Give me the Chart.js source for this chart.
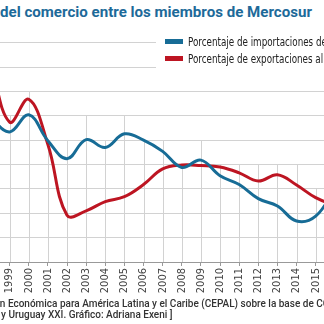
<!DOCTYPE html>
<html lang="es">
<head>
<meta charset="utf-8">
<script src="https://cdn.jsdelivr.net/npm/chart.js@4.4.1/dist/chart.umd.min.js"></script>
<style>
  html, body { margin: 0; padding: 0; width: 324px; height: 324px; overflow: hidden; background: #fff; }
  #titulo { position: absolute; left: 0; top: 3px; font: bold 15.1px Roboto, sans-serif; color: #1d6a99; white-space: nowrap; }
  #grafico { position: absolute; left: -20px; top: 0; width: 370px; height: 324px; }
  #leyenda { position: absolute; left: 156px; top: 33px; width: 200px; height: 46px; background: #fff; }
  .item { position: absolute; left: 9px; white-space: nowrap; height: 14px; }
  .item i { position: absolute; left: 0; top: 4px; width: 18px; height: 5px; }
  .item span { position: absolute; left: 23px; top: -1px; font: 12.5px "DejaVu Sans Condensed", sans-serif; color: #222;
               transform: scaleX(0.78); transform-origin: 0 0; }
  #fuente { position: absolute; left: -37px; top: 298px; font: 500 10px Roboto, sans-serif; color: #333; white-space: nowrap; line-height: 11px; }
</style>
</head>
<body>
<div id="titulo">del comercio entre los miembros de Mercosur</div>
<div id="grafico"><canvas id="comercio"></canvas></div>
<div id="leyenda"></div>
<div id="fuente">Comisión Económica para América Latina y el Caribe (CEPAL) sobre la base de COMTRADE<br><span style="margin-left:38px">y Uruguay XXI. Gráfico: Adriana Exeni ]</span></div>
<script>
const anios = ['1998', '1999', '2000', '2001', '2002', '2003', '2004', '2005', '2006', '2007',
               '2008', '2009', '2010', '2011', '2012', '2013', '2014', '2015', '2016'];
// % de importaciones desde el Mercosur
const importaciones = [39.6, 36.7, 40.2, 34.9, 31.2, 35.1, 33.5, 36.3, 35.0, 32.7,
                       29.4, 30.9, 27.7, 25.9, 23.0, 21.5, 18.4, 19.4, 25.0];
// % de exportaciones al Mercosur
const exportaciones = [51.1, 38.7, 43.4, 34.1, 19.6, 20.5, 22.4, 23.4, 25.9, 29.1,
                       29.9, 29.8, 29.5, 28.3, 26.6, 27.9, 25.8, 23.2, 21.6];

const AZUL = '#176c96';
const ROJO = '#bd1522';

// lineas verticales de cada año, cortadas en la linea horizontal sobre el dato mas alto
const lineasAnuales = {
  id: 'lineasAnuales',
  beforeDatasetsDraw(chart) {
    const {ctx, chartArea, scales: {x, y}} = chart;
    ctx.save();
    ctx.strokeStyle = '#d2d2d2';
    ctx.lineWidth = 1;
    anios.forEach((a, i) => {
      const tope = Math.ceil(Math.max(importaciones[i], exportaciones[i]) / 5) * 5;
      const px = Math.round(x.getPixelForValue(i)) + 0.5;
      ctx.beginPath();
      ctx.moveTo(px, chartArea.bottom);
      ctx.lineTo(px, y.getPixelForValue(tope));
      ctx.stroke();
    });
    ctx.restore();
  }
};

const chart = new Chart(document.getElementById('comercio'), {
  type: 'line',
  data: {
    labels: anios,
    datasets: [
      { label: 'Porcentaje de importaciones desde el Mercosur', data: importaciones, borderColor: AZUL },
      { label: 'Porcentaje de exportaciones al Mercosur', data: exportaciones, borderColor: ROJO }
    ]
  },
  options: {
    responsive: true,
    maintainAspectRatio: false,
    animation: false,
    elements: {
      line: { borderWidth: 3, tension: 0.4, fill: false },
      point: { radius: 0 }
    },
    layout: { padding: { left: 10.5, right: 11.5, top: 42.7, bottom: 0 } },
    plugins: { legend: { display: false }, tooltip: { enabled: false } },
    scales: {
      x: {
        grid: { drawOnChartArea: false, tickLength: 4, color: '#999' },
        border: { color: '#999' },
        ticks: {
          minRotation: 90, maxRotation: 90, autoSkip: false, padding: 2,
          color: '#444', font: { family: '"DejaVu Sans Condensed", sans-serif', size: 11 }
        },
        afterFit(scale) { scale.height = 62; }
      },
      y: {
        min: 10, max: 55,
        ticks: { display: false, stepSize: 5 },
        grid: { color: '#d2d2d2', drawTicks: false },
        border: { display: false },
        afterFit(scale) { scale.width = 0; }
      }
    }
  },
  plugins: [lineasAnuales]
});

// leyenda
const leyenda = document.getElementById('leyenda');
chart.data.datasets.forEach((ds, i) => {
  const item = document.createElement('div');
  item.className = 'item';
  item.style.top = (2 + i * 17) + 'px';
  item.innerHTML = '<i style="background:' + ds.borderColor + '"></i><span>' + ds.label + '</span>';
  leyenda.appendChild(item);
});
</script>
</body>
</html>
